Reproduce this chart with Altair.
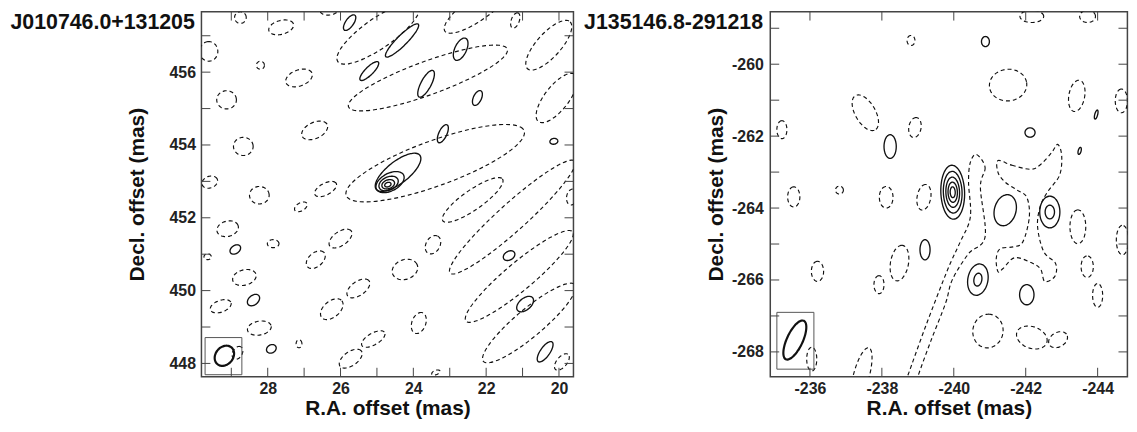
import altair as alt
import numpy as np
import pandas as pd

FONT = "Liberation Sans"
INK = "#111111"

# ---------------- left panel : J010746.0+131205 ----------------
L_NAME = "J010746.0+131205"
L_RA_DOMAIN = [29.82, 19.602]
L_DEC_DOMAIN = [447.635, 457.662]
L_RA_TICKS = [20, 21, 22, 23, 24, 25, 26, 27, 28, 29]
L_RA_LABELS = [20, 22, 24, 26, 28]
L_DEC_TICKS = [448, 449, 450, 451, 452, 453, 454, 455, 456, 457]
L_DEC_LABELS = [448, 450, 452, 454, 456]

# contour ellipses: (RA centre, Dec centre, semi-major, semi-minor [mas], angle [deg])
L_DASHED = [
    (28.75, 457.50, 0.16, 0.16, 0), (27.63, 457.23, 0.35, 0.19, 15),
    (29.62, 456.57, 0.27, 0.25, 90), (28.20, 456.19, 0.11, 0.11, 0),
    (27.14, 455.84, 0.38, 0.22, 20), (29.13, 455.24, 0.27, 0.25, 0),
    (26.71, 454.40, 0.38, 0.22, 25), (28.67, 453.96, 0.27, 0.25, 0),
    (29.59, 452.98, 0.22, 0.16, 20), (26.41, 452.79, 0.33, 0.16, 28),
    (28.23, 452.62, 0.27, 0.24, 0), (26.30, 457.75, 0.28, 0.18, 10),
    (27.09, 452.30, 0.19, 0.11, 30), (29.10, 451.70, 0.30, 0.21, 15),
    (27.85, 451.29, 0.16, 0.11, 0), (29.65, 450.93, 0.10, 0.08, 0),
    (26.00, 451.43, 0.36, 0.19, 35), (26.68, 450.85, 0.30, 0.19, 40),
    (28.64, 450.36, 0.33, 0.21, 15), (29.29, 449.57, 0.30, 0.16, 20),
    (25.51, 450.06, 0.36, 0.19, 35), (26.24, 449.49, 0.36, 0.22, 40),
    (28.23, 448.97, 0.33, 0.19, 10), (27.14, 448.54, 0.08, 0.11, 0),
    (28.83, 448.29, 0.19, 0.13, 60), (25.10, 448.67, 0.36, 0.16, 30),
    (25.72, 448.13, 0.36, 0.19, 35), (21.20, 457.42, 0.22, 0.11, 70),
    (23.46, 451.26, 0.27, 0.19, 60), (24.23, 450.58, 0.36, 0.27, 20),
    (23.85, 449.11, 0.30, 0.19, 70), (23.38, 447.75, 0.12, 0.06, 20),
    (24.96, 457.07, 1.36, 0.41, 35), (23.60, 455.84, 2.32, 0.46, 20),
    (23.40, 453.50, 2.60, 0.62, 20), (22.37, 452.49, 1.00, 0.27, 35),
    (21.28, 452.02, 2.30, 0.38, 42), (21.09, 450.39, 1.91, 0.38, 40),
    (20.82, 449.11, 1.64, 0.38, 40), (20.28, 456.74, 0.87, 0.33, 48),
    (20.06, 455.29, 0.82, 0.33, 52), (19.92, 448.04, 0.27, 0.14, 50),
    (19.65, 452.57, 0.22, 0.14, 80), (22.24, 457.75, 1.09, 0.33, 35),
]
L_SOLID = [
    (25.75, 457.36, 0.25, 0.11, 55), (25.21, 456.03, 0.35, 0.11, 45),
    (24.31, 456.87, 0.63, 0.14, 45), (22.70, 456.63, 0.33, 0.16, 65),
    (23.65, 455.68, 0.41, 0.14, 62), (22.24, 455.29, 0.22, 0.11, 65),
    (23.19, 454.31, 0.27, 0.11, 65), (20.14, 454.10, 0.11, 0.08, 10),
    (21.37, 450.96, 0.17, 0.12, 30), (20.93, 449.63, 0.27, 0.16, 40),
    (20.38, 448.32, 0.33, 0.13, 55), (28.89, 451.13, 0.16, 0.11, 35),
    (28.39, 449.74, 0.19, 0.13, 40), (27.90, 448.40, 0.14, 0.11, 30),
    (24.42, 453.25, 0.76, 0.30, 38), (24.64, 452.98, 0.42, 0.24, 28),
    (24.68, 452.94, 0.28, 0.18, 25), (24.69, 452.92, 0.18, 0.12, 20),
    (24.70, 452.91, 0.09, 0.06, 20),
]
L_POLY_DASHED = []
L_BEAM = [(29.19, 448.21, 0.30, 0.24, 50)]
L_BEAM_BOX = [29.72, 28.71, 447.69, 448.71]

# ---------------- right panel : J135146.8-291218 ----------------
R_NAME = "J135146.8-291218"
R_RA_DOMAIN = [-234.897, -244.828]
R_DEC_DOMAIN = [-268.690, -258.538]
R_RA_TICKS = [-236, -238, -240, -242, -244]
R_RA_LABELS = [-236, -238, -240, -242, -244]
R_DEC_TICKS = [-259, -260, -261, -262, -263, -264, -265, -266, -267, -268]
R_DEC_LABELS = [-260, -262, -264, -266, -268]

R_DASHED = [
    (-238.81, -259.34, 0.14, 0.11, 90), (-237.54, -261.35, 0.55, 0.28, -60),
    (-235.22, -261.82, 0.25, 0.14, 90), (-238.92, -261.76, 0.28, 0.17, 80),
    (-235.55, -263.69, 0.28, 0.17, 90), (-236.82, -263.50, 0.11, 0.11, 0),
    (-238.12, -263.70, 0.30, 0.19, 90), (-239.17, -263.70, 0.36, 0.19, 80),
    (-242.17, -258.67, 0.33, 0.17, 0), (-243.72, -258.67, 0.22, 0.17, 0),
    (-241.51, -260.58, 0.52, 0.44, 5), (-243.42, -260.88, 0.44, 0.22, 80),
    (-244.66, -261.02, 0.33, 0.17, 90), (-236.21, -265.76, 0.28, 0.17, 90),
    (-237.92, -266.13, 0.25, 0.14, 90), (-238.49, -265.53, 0.50, 0.25, 80),
    (-236.05, -268.20, 0.33, 0.14, 90), (-237.43, -268.66, 0.80, 0.22, 75),
    (-243.45, -264.52, 0.47, 0.22, 90), (-243.71, -265.63, 0.30, 0.17, 90),
    (-244.00, -266.43, 0.33, 0.14, 90), (-244.69, -264.89, 0.41, 0.17, 90),
    (-240.95, -267.42, 0.47, 0.42, 80), (-242.17, -267.60, 0.44, 0.30, -20),
    (-242.90, -267.66, 0.28, 0.20, 30),
]
R_SOLID = [
    (-240.88, -259.37, 0.14, 0.11, 90), (-238.23, -262.29, 0.33, 0.17, 90),
    (-242.12, -261.90, 0.14, 0.13, 0), (-239.20, -265.16, 0.28, 0.14, 90),
    (-241.43, -264.06, 0.44, 0.30, 75), (-242.67, -264.11, 0.44, 0.28, 90),
    (-242.67, -264.11, 0.19, 0.13, 90), (-240.67, -265.99, 0.44, 0.28, 80),
    (-240.67, -265.99, 0.18, 0.11, 80), (-242.03, -266.41, 0.28, 0.20, 90),
    (-243.96, -261.40, 0.13, 0.04, 75), (-243.50, -262.41, 0.10, 0.04, 75),
    (-239.97, -263.56, 0.75, 0.33, 92), (-239.97, -263.56, 0.58, 0.26, 92),
    (-239.97, -263.56, 0.42, 0.19, 92), (-239.97, -263.56, 0.28, 0.13, 92),
    (-239.97, -263.56, 0.15, 0.07, 92),
]
# irregular dashed contours: lists of (RA, Dec) vertices
R_POLY_DASHED = [
    [(-241.23, -262.68), (-241.62, -262.81), (-242.12, -262.92), (-242.39, -262.81),
     (-242.72, -262.46), (-242.89, -262.23), (-243.00, -262.54), (-242.94, -263.09),
     (-242.60, -263.56), (-242.40, -263.97), (-242.33, -264.52), (-242.50, -265.21),
     (-242.83, -265.54), (-242.81, -265.90), (-242.53, -266.04), (-242.42, -265.71),
     (-242.20, -265.54), (-241.70, -265.38), (-241.37, -265.68), (-241.23, -265.77),
     (-241.18, -265.41), (-241.29, -265.13), (-241.65, -265.08), (-241.92, -264.94),
     (-242.10, -264.25), (-242.03, -263.70), (-241.76, -263.50), (-241.43, -263.28),
     (-241.23, -263.01)],
    [(-240.63, -262.51), (-240.87, -262.87), (-240.74, -263.42), (-240.87, -264.80),
     (-240.41, -265.27), (-239.96, -265.99), (-239.77, -266.65), (-239.36, -267.70),
     (-239.00, -268.69), (-238.89, -269.13), (-238.53, -269.13), (-238.72, -268.66),
     (-239.22, -267.28), (-239.83, -265.71), (-240.18, -264.94), (-240.46, -264.25),
     (-240.41, -263.28), (-240.46, -262.73)],
]
R_BEAM = [(-235.58, -267.67, 0.59, 0.22, 65)]
R_BEAM_BOX = [-235.08, -236.11, -266.90, -268.48]


def ellipse_frame(items, prefix):
    t = np.linspace(0, 2 * np.pi, 64, endpoint=False)
    parts = []
    for k, (cx, cy, a, b, pa) in enumerate(items):
        th = np.radians(pa)
        u, v = a * np.cos(t), b * np.sin(t)
        parts.append(pd.DataFrame({
            "ra": cx - (u * np.cos(th) - v * np.sin(th)),   # RA grows to the left
            "dec": cy + (u * np.sin(th) + v * np.cos(th)),
            "cid": f"{prefix}{k}",
            "k": np.arange(len(t)),
        }))
    return pd.concat(parts, ignore_index=True)


def poly_frame(polys, prefix):
    parts = []
    for k, pts in enumerate(polys):
        parts.append(pd.DataFrame({
            "ra": [p[0] for p in pts], "dec": [p[1] for p in pts],
            "cid": f"{prefix}{k}", "k": np.arange(len(pts)),
        }))
    return pd.concat(parts, ignore_index=True)


def panel(name, xdom, ydom, W, H, xticks, xlabels, yticks, ylabels,
          dashed, solid, polys, beam, box, ylabel_pad, ytitle_pad, title_dx):
    xs = alt.Scale(domain=xdom, nice=False, zero=False)
    ys = alt.Scale(domain=ydom, nice=False, zero=False)
    common = dict(labelExpr="'' + datum.value", ticks=False, tickSize=0, domain=False,
                  grid=False, labelFont=FONT, labelFontSize=16, labelFontWeight="bold",
                  labelColor="#222222", titleFont=FONT, titleFontSize=21,
                  titleFontWeight="bold", titleColor=INK)
    xaxis = alt.Axis(values=xlabels, labelPadding=4, title="R.A. offset (mas)",
                     titlePadding=1, **common)
    yaxis = alt.Axis(values=ylabels, labelPadding=ylabel_pad, title="Decl. offset (mas)",
                     titlePadding=ytitle_pad, **common)

    dashed_df = ellipse_frame(dashed, "d")
    if polys:
        dashed_df = pd.concat([dashed_df, poly_frame(polys, "p")], ignore_index=True)
    solid_df = ellipse_frame(solid, "s")
    beam_df = ellipse_frame(beam, "b")

    def X(field):
        return alt.X(field, scale=xs, axis=xaxis)

    def Y(field):
        return alt.Y(field, scale=ys, axis=yaxis)

    def lines(df, **kw):
        return alt.Chart(df).mark_line(clip=True, interpolate="cardinal-closed",
                                       color=INK, **kw).encode(
            x=X("ra:Q"), y=Y("dec:Q"), detail="cid:N", order="k:Q")

    dashed_layer = lines(dashed_df, strokeDash=[4, 3], strokeWidth=1.15)
    solid_layer = lines(solid_df, strokeWidth=1.35)
    beam_layer = lines(beam_df, strokeWidth=2.2)

    box_df = pd.DataFrame({"x1": [box[0]], "x2": [box[1]], "y1": [box[2]], "y2": [box[3]]})
    box_layer = alt.Chart(box_df).mark_rect(fillOpacity=0, stroke="#555555", strokeWidth=1).encode(
        x=X("x1:Q"), x2="x2:Q", y=Y("y1:Q"), y2="y2:Q")

    tx = pd.DataFrame({"v": xticks})
    ty = pd.DataFrame({"v": yticks})
    tick_kw = dict(color="#444444", strokeWidth=1)
    ticks = [
        alt.Chart(tx).mark_rule(**tick_kw).encode(
            x=X("v:Q"), y=alt.value(0), y2=alt.value(9)),
        alt.Chart(tx).mark_rule(**tick_kw).encode(
            x=X("v:Q"), y=alt.value(H), y2=alt.value(H - 9)),
        alt.Chart(ty).mark_rule(**tick_kw).encode(
            y=Y("v:Q"), x=alt.value(0), x2=alt.value(9)),
        alt.Chart(ty).mark_rule(**tick_kw).encode(
            y=Y("v:Q"), x=alt.value(W), x2=alt.value(W - 9)),
    ]
    title_layer = alt.Chart(pd.DataFrame({"t": [name]})).mark_text(
        align="right", baseline="alphabetic", font=FONT, fontWeight="bold",
        fontSize=21.5, color=INK).encode(text="t:N", x=alt.value(title_dx), y=alt.value(17))

    return alt.layer(dashed_layer, solid_layer, beam_layer, box_layer, *ticks,
                     title_layer).properties(width=W, height=H)


left = panel(L_NAME, L_RA_DOMAIN, L_DEC_DOMAIN, 375, 368, L_RA_TICKS, L_RA_LABELS,
             L_DEC_TICKS, L_DEC_LABELS, L_DASHED, L_SOLID, L_POLY_DASHED, L_BEAM,
             L_BEAM_BOX, 6, 22, -6.7)
right = panel(R_NAME, R_RA_DOMAIN, R_DEC_DOMAIN, 360, 368, R_RA_TICKS, R_RA_LABELS,
              R_DEC_TICKS, R_DEC_LABELS, R_DASHED, R_SOLID, R_POLY_DASHED, R_BEAM,
              R_BEAM_BOX, 7, 5, -7.3)

chart = alt.hconcat(left, right, spacing=198.4, bounds="flush").properties(
    padding={"left": 1, "top": 0, "right": 0, "bottom": 4}
).configure_view(stroke="#444444", strokeWidth=1.5)

chart.save("out.html", embed_options={"renderer": "svg", "actions": False})
